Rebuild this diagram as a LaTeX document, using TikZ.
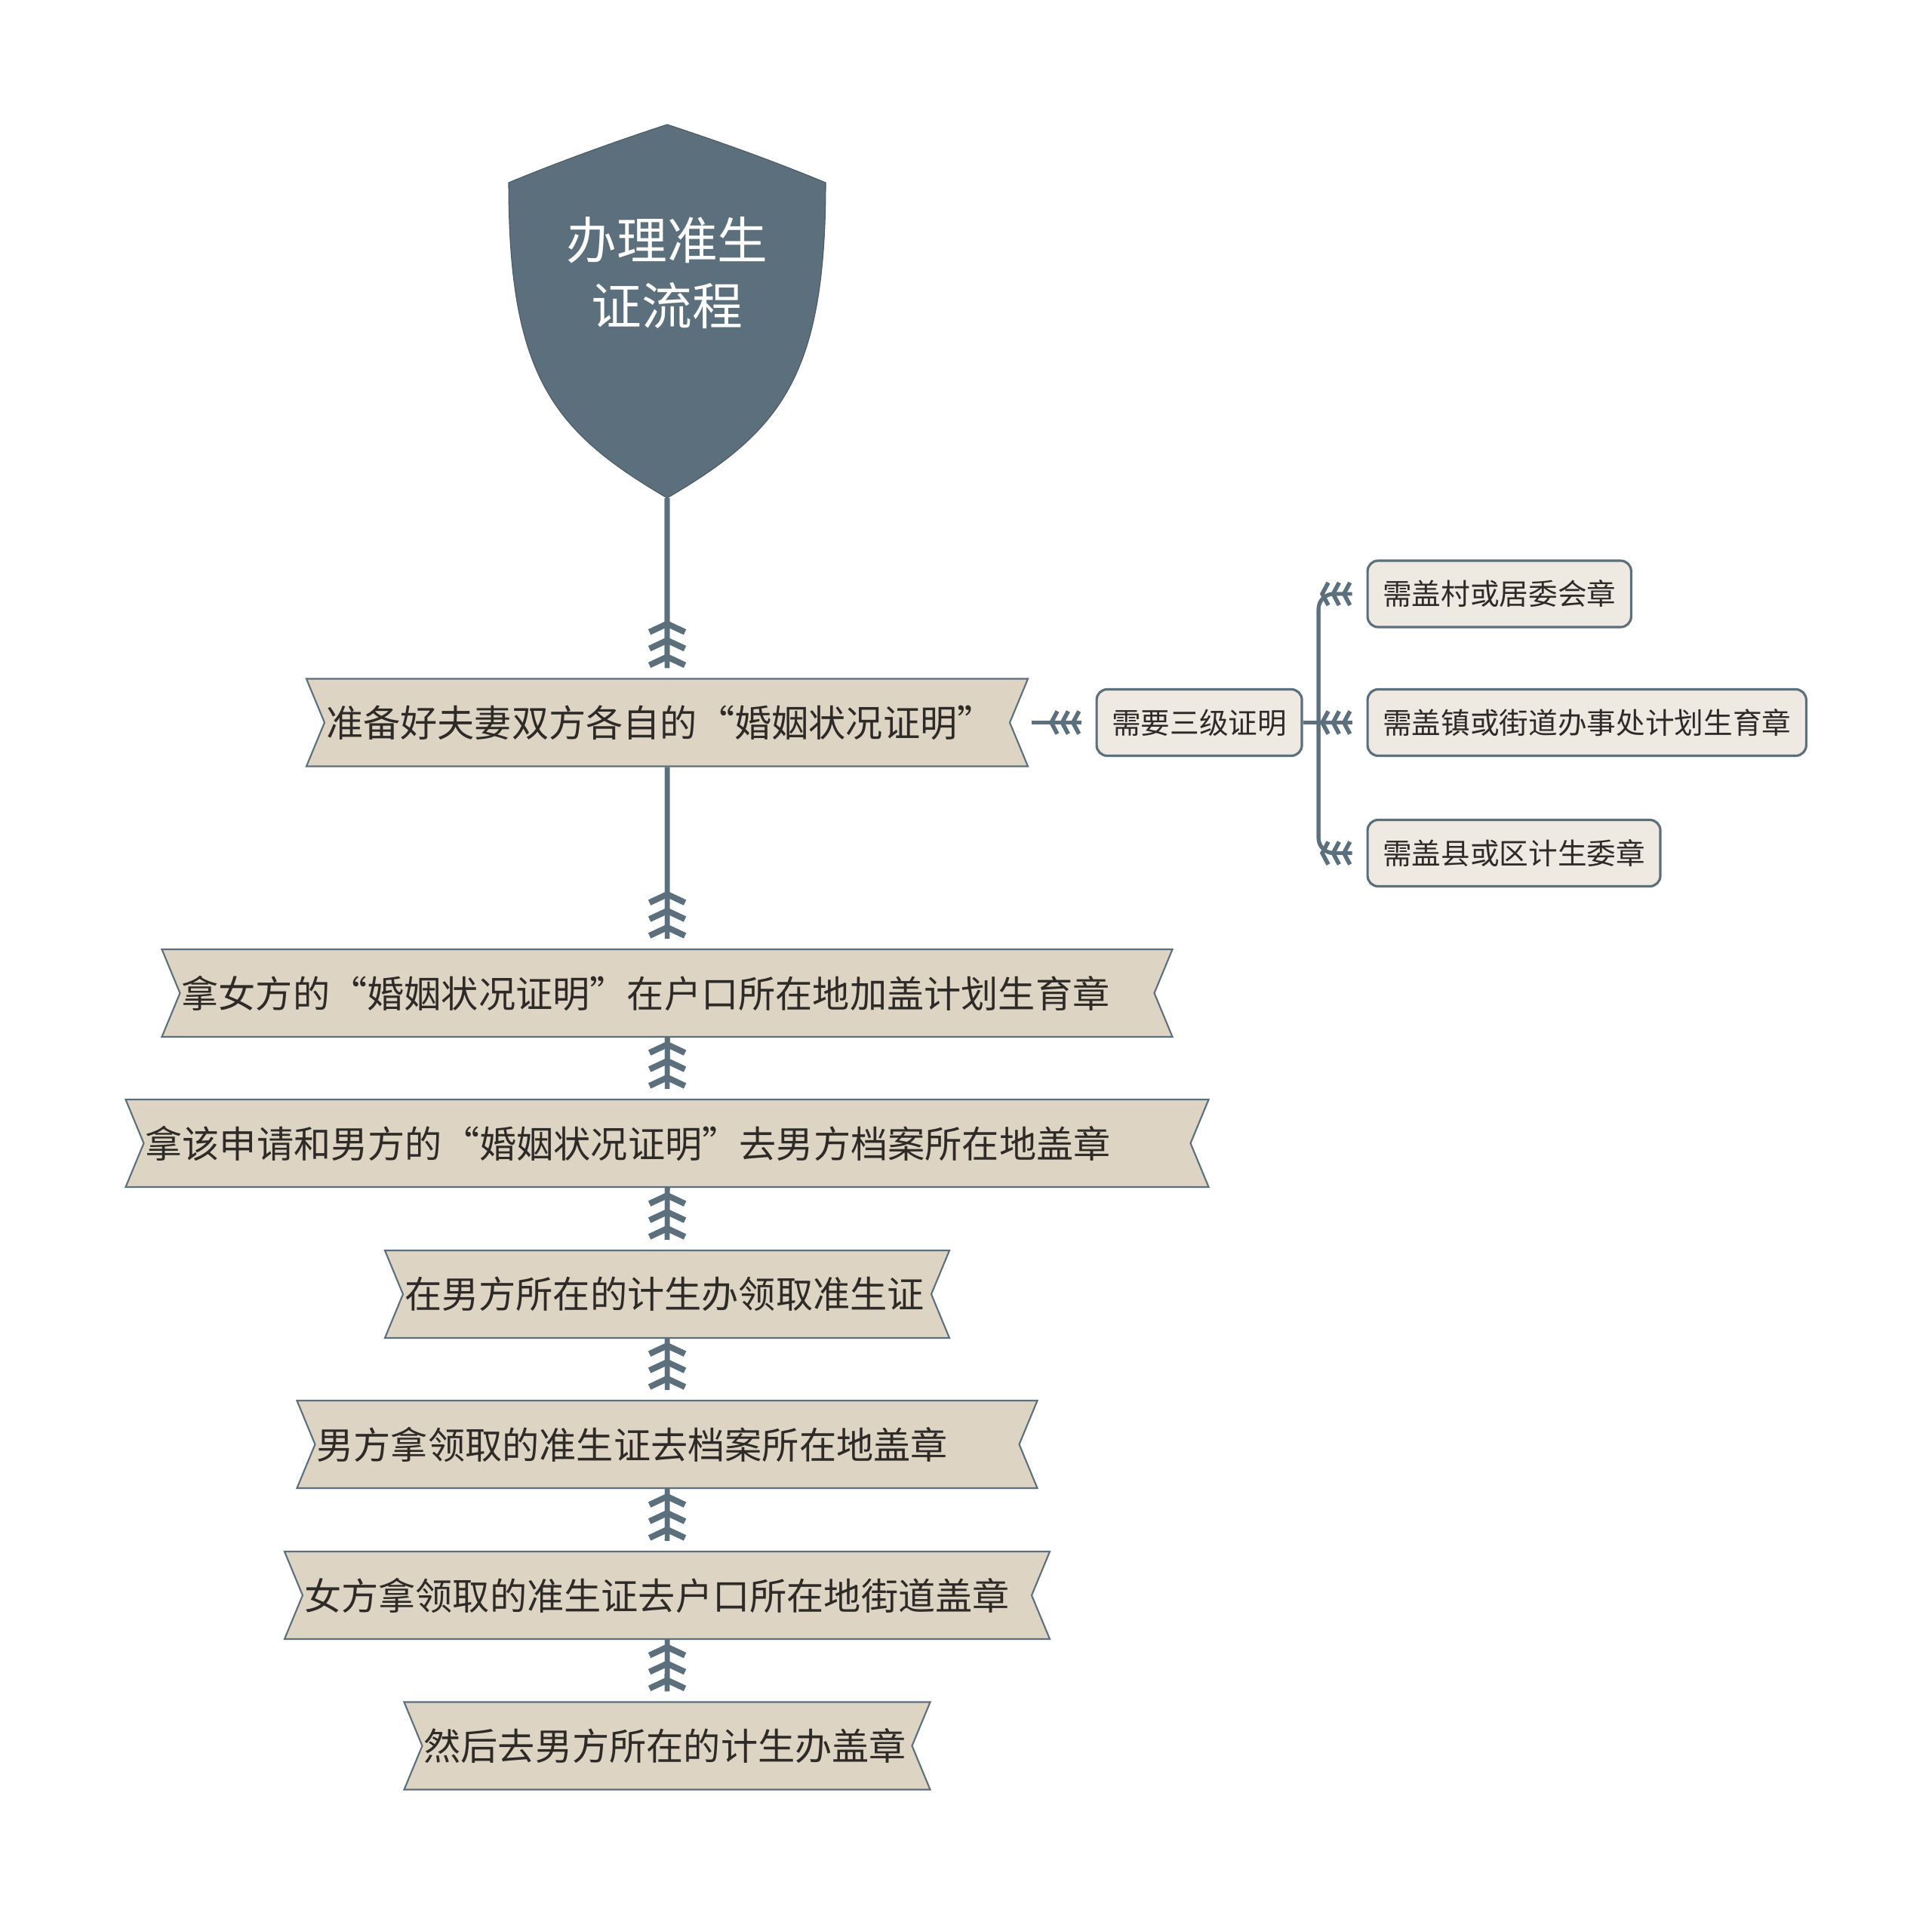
\documentclass[tikz,border=0pt]{standalone}
\usepackage{fontspec}
\setmainfont{Noto Sans CJK SC}
\usepackage{xcolor}
\usetikzlibrary{shapes.symbols, arrows.meta, positioning, calc}

\definecolor{slate}{RGB}{92,111,124}
\definecolor{ribbonfill}{RGB}{222,212,196}
\definecolor{boxfill}{RGB}{238,234,226}
\definecolor{inktext}{RGB}{45,42,40}

\begin{document}
\begin{tikzpicture}[
    ribbon/.style = {signal, signal from=west and east, signal to=nowhere, signal pointer angle=135, draw=slate, fill=ribbonfill, line width=1.2pt, text=inktext, align=left, font=\fontsize{28}{34}\selectfont, inner xsep=0.04cm, inner ysep=0pt, minimum height=2.32cm},
    notebox/.style = {rectangle, draw=slate, fill=boxfill, line width=1.8pt, rounded corners=0.28cm, text=inktext, font=\fontsize{22}{26}\selectfont, inner xsep=0.4cm, inner ysep=0pt, minimum height=1.76cm, anchor=west},
    titletext/.style = {align=center, text=white, font=\fontsize{38}{49.5}\selectfont, inner sep=0pt},
    flow/.style = {draw=slate, line width=3.8pt, shorten >=0.26cm, -{Straight Barb[reversed, sharp, line width=0.16cm 0, length=0.22cm, width=0.94cm, sep=0.05cm] Straight Barb[reversed, sharp, line width=0.16cm 0, length=0.22cm, width=0.94cm, sep=0.05cm] Straight Barb[reversed, sharp, line width=0.16cm 0, length=0.22cm, width=0.94cm]}, postaction={draw=slate, -}},
    side/.style = {draw=slate, line width=2.8pt, shorten >=0.38cm, -{Straight Barb[reversed, sharp, line width=0.11cm 0, length=0.16cm, width=0.6cm, sep=0.01cm] Straight Barb[reversed, sharp, line width=0.11cm 0, length=0.16cm, width=0.6cm, sep=0.01cm] Straight Barb[reversed, sharp, line width=0.11cm 0, length=0.16cm, width=0.6cm]}, postaction={draw=slate, -}}
]
\useasboundingbox (0,0) rectangle (51.2,-50.78);

% Shield with the title
\fill[slate, draw=slate!80!black, line width=0.6pt] (17.68,-3.30) .. controls (16.28,-3.76) and (14.88,-4.26) .. (13.48,-4.84)
    .. controls (13.48,-10.0) and (14.68,-11.44) .. (17.68,-13.2)
    .. controls (20.68,-11.44) and (21.88,-10.0) .. (21.88,-4.84)
    .. controls (20.48,-4.26) and (19.08,-3.76) .. cycle;
\coordinate (shieldtip) at (17.68,-13.2);
\node (title) [titletext] at (17.68,-7.23) {办理准生\\证流程};

% Main steps (ribbons, text left aligned)
\node (r1) [ribbon, text width=18.08cm] at (17.68,-19.15) {准备好夫妻双方各自的“婚姻状况证明”};
\node (r2) [ribbon, text width=25.74cm] at (17.68,-26.32) {拿女方的“婚姻状况证明”在户口所在地加盖计划生育章};
\node (r3) [ribbon, text width=27.66cm] at (17.68,-30.30) {拿该申请和男方的“婚姻状况证明”去男方档案所在地盖章};
\node (r4) [ribbon, text width=13.92cm] at (17.68,-34.30) {在男方所在的计生办领取准生证};
\node (r5) [ribbon, text width=18.58cm] at (17.68,-38.28) {男方拿领取的准生证去档案所在地盖章};
\node (r6) [ribbon, text width=19.24cm] at (17.68,-42.28) {女方拿领取的准生证去户口所在地街道盖章};
\node (r7) [ribbon, text width=12.90cm] at (17.68,-46.27) {然后去男方所在的计生办盖章};

% Side notes of step 1
\node (need) [notebox] at (29.03,-19.15) {需要三级证明};
\node (c1) [notebox] at (36.21,-15.74) {需盖村或居委会章};
\node (c2) [notebox] at (36.21,-19.15) {需盖镇或街道办事处计划生育章};
\node (c3) [notebox] at (36.21,-22.61) {需盖县或区计生委章};

% Vertical flow
\draw [flow] (shieldtip) -- (r1);
\draw [flow] (r1) -- (r2);
\draw [flow] (r2) -- (r3);
\draw [flow] (r3) -- (r4);
\draw [flow] (r4) -- (r5);
\draw [flow] (r5) -- (r6);
\draw [flow] (r6) -- (r7);

% Branches to the right
\draw [side] ([xshift=0.06cm]need.west -| r1.north east) -- (need);
\coordinate (fork) at ($(need.east)+(0.41,0)$);
\draw [side] (need.east) -- (c2.west);
\draw [side, rounded corners=0.4cm] (fork) |- (c1.west);
\draw [side, rounded corners=0.4cm] (fork) |- (c3.west);

\end{tikzpicture}
\end{document}
